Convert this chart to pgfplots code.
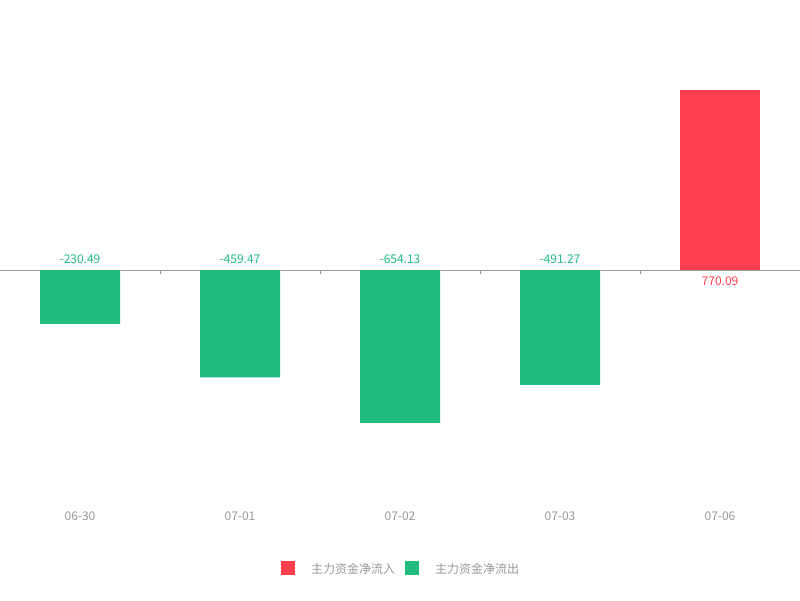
\documentclass[border=0pt]{standalone}
\usepackage{pgfplots}
\pgfplotsset{compat=1.18}
\usepackage{fontspec}
\setmainfont{Noto Sans CJK SC}
\definecolor{myred}{HTML}{FF3E4E}
\definecolor{mygreen}{HTML}{21BD7F}
\definecolor{axgray}{HTML}{999999}
\definecolor{lblgray}{HTML}{999999}
\begin{document}
\begin{tikzpicture}[x=1pt,y=1pt]
\useasboundingbox[fill=white] (0,0) rectangle (800,600);
\begin{axis}[
  at={(0pt,96.3pt)}, anchor=south west,
  scale only axis, width=800pt, height=467.4pt,
  xmin=-0.5, xmax=4.5, ymin=-1000, ymax=1000,
  axis x line=middle, axis y line=none,
  x axis line style={-, draw=axgray, line width=1pt},
  ytick=\empty,
  xtick={0.5,1.5,2.5,3.5,4.5}, xticklabels={},
  tick align=outside, major tick length=4pt,
  every tick/.style={draw=axgray, line width=1pt},
  extra x ticks={0,1,2,3,4},
  extra x tick labels={06-30,07-01,07-02,07-03,07-06},
  extra x tick style={major tick length=0pt,
    tick label style={anchor=center, yshift=-246pt, text=lblgray, font=\fontsize{12}{14}\selectfont}},
  legend style={at={(0.5,-0.1376)}, anchor=center, draw=none, fill=none,
    legend columns=2, font=\fontsize{12}{14}\selectfont, text=lblgray,
    /tikz/every even column/.append style={column sep=10pt},
    nodes={inner sep=0pt}},
  legend image code/.code={\fill[#1] (0pt,-5.5pt) rectangle (14pt,8.5pt); \path (30pt,0pt);},
]
\addplot[ybar, bar width=80pt, bar shift=0pt, fill=myred, draw=none] coordinates {(4,770.09)};
\addlegendentry{主力资金净流入}
\addplot[ybar, bar width=80pt, bar shift=0pt, fill=mygreen, draw=none] coordinates {(0,-230.49) (1,-459.47) (2,-654.13) (3,-491.27)};
\addlegendentry{主力资金净流出}
\addplot[forget plot, draw=none, mark=none, nodes near coords={\pgfplotspointmeta}, point meta=explicit symbolic,
  nodes near coords style={anchor=center, yshift=11pt, text=mygreen, font=\fontsize{12}{14}\selectfont}]
  coordinates {(0,0)[-230.49] (1,0)[-459.47] (2,0)[-654.13] (3,0)[-491.27]};
\addplot[forget plot, draw=none, mark=none, nodes near coords={\pgfplotspointmeta}, point meta=explicit symbolic,
  nodes near coords style={anchor=center, yshift=-11pt, text=myred, font=\fontsize{12}{14}\selectfont}]
  coordinates {(4,0)[770.09]};
\end{axis}
\end{tikzpicture}
\end{document}
